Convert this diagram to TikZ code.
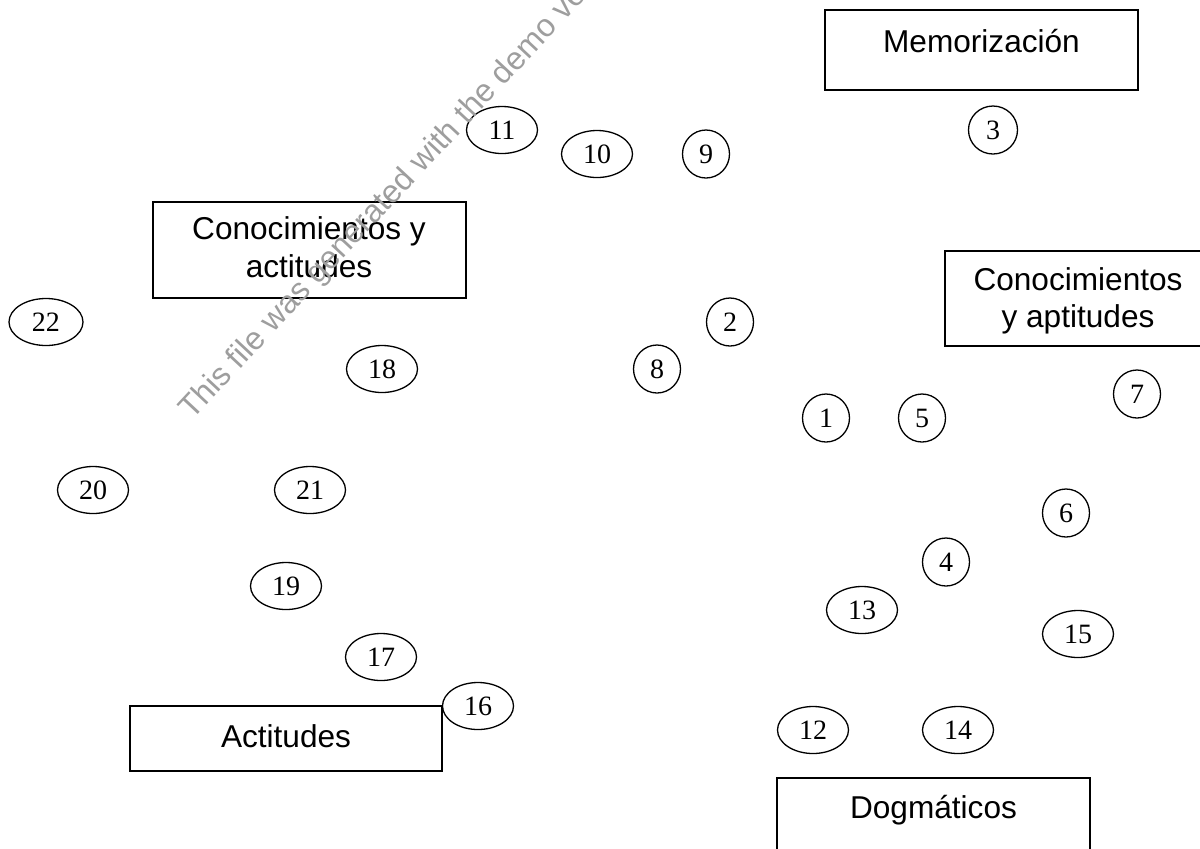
\documentclass[tikz,border=0pt]{standalone}
\usepackage{fontspec}
\setmainfont{Liberation Serif}
\newfontfamily\arialf{Liberation Sans}
\usetikzlibrary{shapes.geometric}
\begin{document}
\begin{tikzpicture}[x=0.5pt,y=-0.5pt,
  box/.style={draw, line width=0.7pt, rectangle, inner sep=0pt},
  boxtext/.style={font=\arialf\fontsize{15.8}{19}\selectfont, anchor=base, inner sep=0pt},
  num/.style={draw, line width=0.65pt, ellipse, inner sep=0pt, minimum width=35.5pt, minimum height=23.5pt, font=\fontsize{14}{16}\selectfont},
  cnum/.style={num, minimum width=23.5pt, minimum height=24pt},
  wmark/.style={font=\arialf\fontsize{16}{18}\selectfont, text=black!38, inner sep=0pt, anchor=base west, rotate=47}]
\useasboundingbox (0,0) rectangle (1200,848);
\clip (0,0) rectangle (1200,848);
% boxes
\node[box, minimum width=156.5pt, minimum height=40pt] (mem) at (981.5,50) {};
\node[boxtext] (memt) at (981.5,52) {Memorización};
\node[box, minimum width=156.5pt, minimum height=48pt] (ca) at (309.5,250) {};
\node[boxtext] (ca1) at (309,239) {Conocimientos y};
\node[boxtext] (ca2) at (309,277) {actitudes};
\node[box, minimum width=133pt, minimum height=47.5pt] (cap) at (1078,298.5) {};
\node[boxtext] (cap1) at (1078,290) {Conocimientos};
\node[boxtext] (cap2) at (1078,327) {y aptitudes};
\node[box, minimum width=156pt, minimum height=32.5pt] (act) at (286,738.5) {};
\node[boxtext] (actt) at (286,747) {Actitudes};
\node[box, minimum width=156.5pt, minimum height=40pt] (dog) at (933.5,818) {};
\node[boxtext] (dogt) at (933.5,818) {Dogmáticos};
% numbered ellipses
\node[num] (n11) at (502,130) {11};
\node[num] (n10) at (597,154) {10};
\node[cnum] (n9) at (706,154) {9};
\node[cnum, minimum width=24.5pt] (n3) at (993,130) {3};
\node[cnum] (n2) at (730,322) {2};
\node[cnum] (n8) at (657,369) {8};
\node[num] (n18) at (382,369) {18};
\node[num, minimum width=37pt] (n22) at (46,322) {22};
\node[cnum] (n1) at (826,418) {1};
\node[cnum] (n5) at (922,418) {5};
\node[cnum] (n7) at (1137,394) {7};
\node[cnum] (n6) at (1066,513) {6};
\node[cnum] (n4) at (946,562) {4};
\node[num] (n13) at (862,610) {13};
\node[num] (n15) at (1078,634) {15};
\node[num] (n12) at (813,730) {12};
\node[num] (n14) at (958,730) {14};
\node[num] (n20) at (93,490) {20};
\node[num] (n21) at (310,490) {21};
\node[num] (n19) at (286,586) {19};
\node[num] (n17) at (381,657) {17};
\node[num] (n16) at (478,706) {16};
% watermark
\node[wmark] (wm) at (192,421) {This file was generated with the demo version};
\end{tikzpicture}
\end{document}
